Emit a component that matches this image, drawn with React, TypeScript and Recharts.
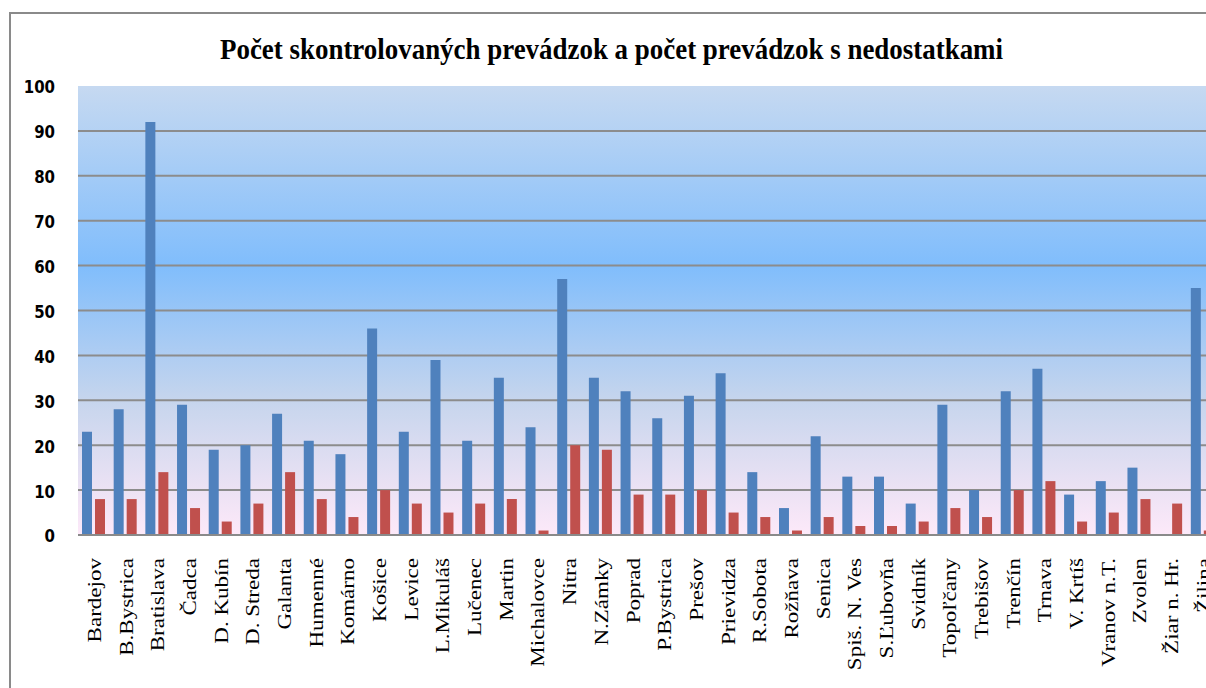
import React from "react";
import { BarChart, Bar, XAxis, YAxis, CartesianGrid } from "recharts";

const TITLE = "Počet skontrolovaných prevádzok a počet prevádzok s nedostatkami";

const CATEGORIES = [
  "Bardejov", "B.Bystrica", "Bratislava", "Čadca", "D. Kubín", "D. Streda",
  "Galanta", "Humenné", "Komárno", "Košice", "Levice", "L.Mikuláš",
  "Lučenec", "Martin", "Michalovce", "Nitra", "N.Zámky", "Poprad",
  "P.Bystrica", "Prešov", "Prievidza", "R.Sobota", "Rožňava", "Senica",
  "Spiš. N. Ves", "S.Ľubovňa", "Svidník", "Topoľčany", "Trebišov", "Trenčín",
  "Trnava", "V. Krtíš", "Vranov n.T.", "Zvolen", "Žiar n. Hr.", "Žilina",
];

const CHECKED = [
  23, 28, 92, 29, 19, 20,
  27, 21, 18, 46, 23, 39,
  21, 35, 24, 57, 35, 32,
  26, 31, 36, 14, 6, 22,
  13, 13, 7, 29, 10, 32,
  37, 9, 12, 15, 0, 55,
];

const DEFICIENT = [
  8, 8, 14, 6, 3, 7,
  14, 8, 4, 10, 7, 5,
  7, 8, 1, 20, 19, 9,
  9, 10, 5, 4, 1, 4,
  2, 2, 3, 6, 4, 10,
  12, 3, 5, 8, 7, 1,
];

const Y_TICKS = [0, 10, 20, 30, 40, 50, 60, 70, 80, 90, 100];
const GRID_VALUES = [10, 20, 30, 40, 50, 60, 70, 80, 90];

const data = CATEGORIES.map((name, i) => ({
  name,
  checked: CHECKED[i],
  deficient: DEFICIENT[i],
}));

const XTick = (props: any) => {
  const { x, y, payload } = props;
  return (
    <g transform={`translate(${x + 1},${y + 23}) rotate(-90) scale(1.28,1)`}>
      <text
        x={0}
        y={0}
        dy="0.34em"
        textAnchor="end"
        fontFamily="'Liberation Serif', 'Times New Roman', serif"
        fontSize={18}
        fill="#000"
      >
        {payload.value}
      </text>
    </g>
  );
};

const YTick = (props: any) => {
  const { x, y, payload } = props;
  return (
    <g transform={`translate(${x},${y + 1}) scale(1,1.2)`}>
      <text
        x={0}
        y={0}
        dy="0.36em"
        textAnchor="end"
        fontFamily="'DejaVu Sans', sans-serif"
        fontWeight="bold"
        fontSize={15}
        fill="#000"
      >
        {payload.value}
      </text>
    </g>
  );
};

export default function App() {
  return (
    <div
      style={{
        position: "fixed",
        left: 0,
        top: 0,
        width: 1206,
        height: 688,
        overflow: "hidden",
        background: "#fff",
      }}
    >
      <div
        style={{
          position: "absolute",
          left: 9,
          top: 12,
          width: 1300,
          height: 800,
          borderTop: "2px solid #8a8a8a",
          borderLeft: "2px solid #8a8a8a",
        }}
      />
      <div style={{ position: "absolute", left: 0, top: 0 }}>
        <BarChart
          width={1240}
          height={688}
          data={data}
          margin={{ top: 86, right: 21.5, bottom: 0, left: 0 }}
          barGap={3}
        >
          <defs>
            <linearGradient id="plotBg" x1="0" y1="0" x2="0" y2="1">
              <stop offset="0%" stopColor="#c6d9f1" />
              <stop offset="40%" stopColor="#80bdfc" />
              <stop offset="70%" stopColor="#c6d5ed" />
              <stop offset="90%" stopColor="#ece2f4" />
              <stop offset="100%" stopColor="#fde9f9" />
            </linearGradient>
          </defs>
          <text
            transform="translate(611.5,59) scale(1,1.3)"
            x={0}
            y={0}
            textAnchor="middle"
            fontFamily="'Liberation Serif', 'Times New Roman', serif"
            fontWeight="bold"
            fontSize={22}
            textLength={783}
            lengthAdjust="spacingAndGlyphs"
            fill="#000"
          >
            {TITLE}
          </text>
          <CartesianGrid
            vertical={false}
            horizontalValues={GRID_VALUES}
            stroke="#8c8c8c"
            strokeWidth={2}
            fill="url(#plotBg)"
            fillOpacity={1}
          />
          <XAxis
            dataKey="name"
            interval={0}
            tickLine={false}
            tickSize={0}
            tickMargin={0}
            axisLine={{ stroke: "#8a8a8a", strokeWidth: 2 }}
            height={153}
            tick={<XTick />}
          />
          <YAxis
            domain={[0, 100]}
            ticks={Y_TICKS}
            interval={0}
            tickLine={false}
            axisLine={false}
            tickSize={0}
            tickMargin={23}
            width={78}
            tick={<YTick />}
          />
          <Bar
            dataKey="checked"
            fill="#4f81bd"
            barSize={10}
            isAnimationActive={false}
          />
          <Bar
            dataKey="deficient"
            fill="#c0504d"
            barSize={10}
            isAnimationActive={false}
          />
        </BarChart>
      </div>
    </div>
  );
}
